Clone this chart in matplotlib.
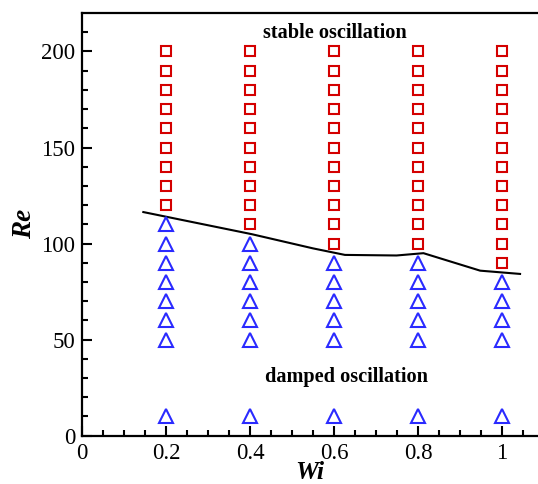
import matplotlib
matplotlib.use("Agg")
import matplotlib.pyplot as plt
import numpy as np

plt.rcParams['font.family'] = ['Liberation Serif', 'DejaVu Serif']

# Simulation grid: Weissenberg number vs Reynolds number
wi_values = [0.2, 0.4, 0.6, 0.8, 1.0]
# lowest Re giving a stable oscillation at each Wi
stable_re_start = [120, 110, 100, 100, 90]
stable_re_end = 200
# damped runs: Re = 10 plus 50 .. highest damped Re
damped_re_top = [110, 100, 90, 90, 80]
damped_re_low = [10]

# critical Reynolds number curve
curve_wi = [0.146, 0.404, 0.55, 0.626, 0.749, 0.813, 0.948, 1.043]
curve_re = [116.4, 104.9, 97.5, 94.1, 93.8, 95.0, 85.9, 84.2]

xticks = [0, 0.2, 0.4, 0.6, 0.8, 1.0]
xticklabels = ["0", "0.2", "0.4", "0.6", "0.8", "1"]
yticks = [0, 50, 100, 150, 200]

stable_x, stable_y, damped_x, damped_y = [], [], [], []
for wi, s0, d1 in zip(wi_values, stable_re_start, damped_re_top):
    for re in range(s0, stable_re_end + 1, 10):
        stable_x.append(wi); stable_y.append(re)
    for re in damped_re_low + list(range(50, d1 + 1, 10)):
        damped_x.append(wi); damped_y.append(re)

fig = plt.figure(figsize=(5.38, 4.84), dpi=100)
ax = fig.add_axes([0.1524, 0.0998, 0.8476, 0.8733])

ax.plot(curve_wi, curve_re, color='black', lw=1.5, zorder=2)
ax.plot(stable_x, stable_y, ls='none', marker='s', ms=7.6, mfc='none',
        mec='#d40000', mew=1.5, zorder=3)
ax.plot(damped_x, damped_y, ls='none', marker='^', ms=9.5, mfc='none',
        mec='#2a2aff', mew=1.5, zorder=3)

ax.text(0.602, 209.7, "stable oscillation", ha='center', va='center',
        fontsize=14.6, fontweight='bold')
ax.text(0.630, 30.5, "damped oscillation", ha='center', va='center',
        fontsize=14.6, fontweight='bold')

ax.set_xlim(0, 1.0857)
ax.set_ylim(0, 220)
ax.set_xticks(xticks)
ax.set_xticklabels(xticklabels)
ax.set_yticks(yticks)
ax.set_xticks(np.arange(0.05, 1.08, 0.05), minor=True)
ax.set_yticks(np.arange(10, 220, 10), minor=True)

ax.tick_params(which='both', direction='in', top=False, right=False,
               width=1.5, labelsize=16.5)
ax.tick_params(which='major', length=7)
ax.tick_params(which='minor', length=4.5)
ax.tick_params(axis='y', pad=5)
ax.tick_params(axis='x', pad=5)

for side in ['left', 'bottom', 'top']:
    ax.spines[side].set_linewidth(1.6)
ax.spines['right'].set_visible(False)

ax.set_xlabel("Wi", fontsize=18.5, fontweight='bold', style='italic', labelpad=-2)
ax.set_ylabel("Re", fontsize=19.5, fontweight='bold', style='italic', labelpad=3)

fig.savefig("out.png", dpi=100)
